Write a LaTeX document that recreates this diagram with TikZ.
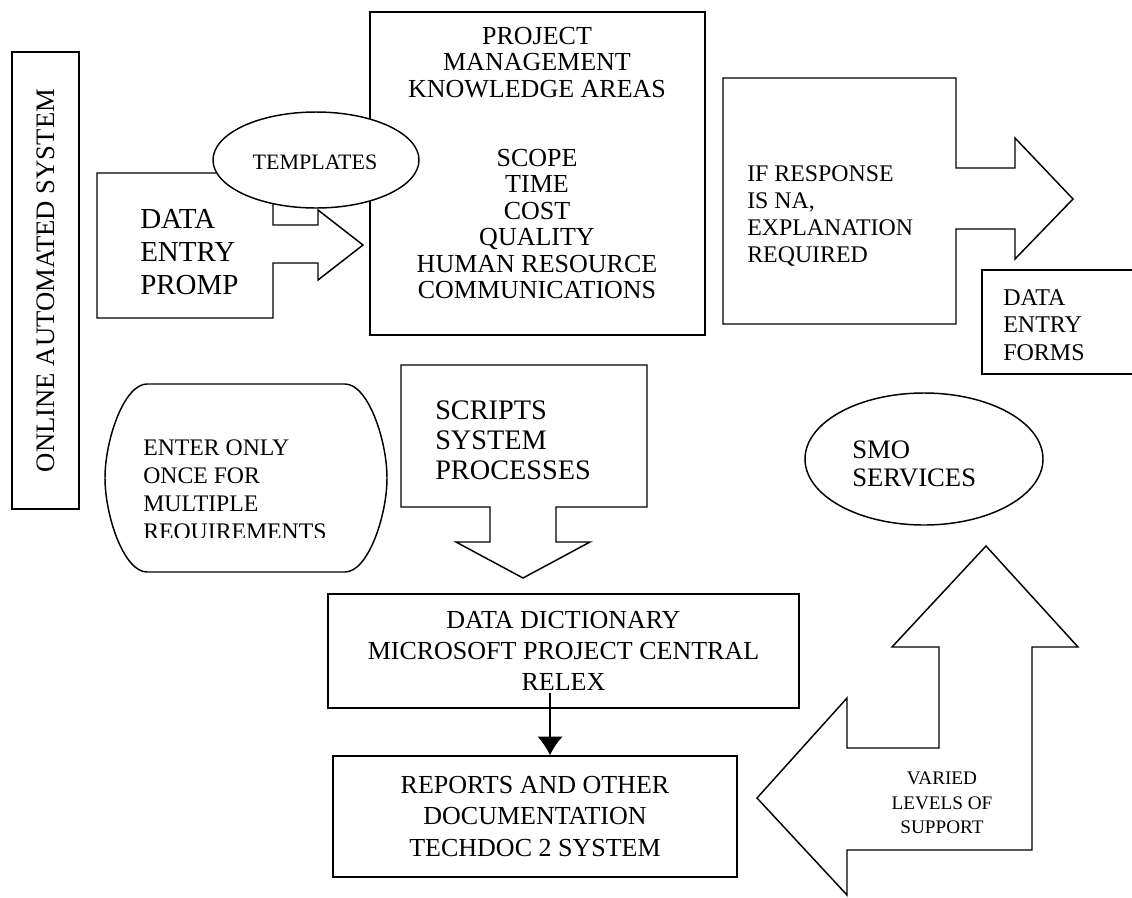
\documentclass[tikz,border=0pt]{standalone}
\usepackage{fontspec}
\setmainfont{Liberation Serif}
\usetikzlibrary{arrows.meta}
\begin{document}
\begin{tikzpicture}[x=0.75pt,y=-0.75pt,
  outline/.style={draw=black, line width=1.1pt, line join=miter, fill=white},
  boxnode/.style={outline, rectangle, inner sep=0pt},
  txt/.style={inner sep=0pt},
  pmfont/.style={font=\fontsize{19.5pt}{19.9pt}\selectfont},
  promptfont/.style={font=\fontsize{21.75pt}{25pt}\selectfont},
  respfont/.style={font=\fontsize{17.9pt}{20.4pt}\selectfont},
  formsfont/.style={font=\fontsize{18pt}{20.6pt}\selectfont},
  tplfont/.style={font=\fontsize{16.5pt}{18pt}\selectfont},
  onlinefont/.style={font=\fontsize{20pt}{22pt}\selectfont},
  enterfont/.style={font=\fontsize{17.8pt}{20.8pt}\selectfont},
  scriptfont/.style={font=\fontsize{21.2pt}{22.5pt}\selectfont},
  ddfont/.style={font=\fontsize{19.5pt}{23.3pt}\selectfont},
  smofont/.style={font=\fontsize{20pt}{21pt}\selectfont},
  variedfont/.style={font=\fontsize{14.4pt}{18.4pt}\selectfont},
  conn/.style={draw=black, line width=1.1pt, -{Latex[length=14pt,width=19pt]}}
]
\useasboundingbox[fill=white] (0,0) rectangle (1132,897);

% vertical title bar
\node[boxnode, onlinefont, rotate=90, minimum width=342.75pt, minimum height=50.25pt]
  (online) at (45.5,280.5) {ONLINE AUTOMATED SYSTEM};

% knowledge areas box
\node[boxnode, minimum width=251.25pt, minimum height=242.25pt] (pm) at (537.5,173.5) {};
\node[txt, pmfont, align=center] (pmtext) at (537,163)
  {PROJECT\\MANAGEMENT\\KNOWLEDGE AREAS\\[32pt]SCOPE\\TIME\\COST\\QUALITY\\HUMAN RESOURCE\\COMMUNICATIONS};

% data entry prompt arrow
\draw[outline] (97,173) -- (273,173) -- (273,225) -- (318,225) -- (318,210) -- (363,245)
  -- (318,280) -- (318,263) -- (273,263) -- (273,318) -- (97,318) -- cycle;
\node[txt, promptfont, align=left, anchor=west] (prompt) at (140,252) {DATA\\ENTRY\\PROMP};

% templates ellipse on top
\draw[outline] (316,160) ellipse [x radius=103, y radius=48];
\node[txt, tplfont] (templates) at (315,162) {TEMPLATES};

% response arrow
\draw[outline] (723,78) -- (956,78) -- (956,168) -- (1015,168) -- (1015,138) -- (1073,199)
  -- (1015,259) -- (1015,229) -- (956,229) -- (956,324) -- (723,324) -- cycle;
\node[txt, respfont, align=left, anchor=west] (response) at (747,216)
  {IF RESPONSE\\IS NA,\\EXPLANATION\\REQUIRED};

% data entry forms box, running off the right edge
\draw[outline] (1132,270) -- (982,270) -- (982,374) -- (1132,374);
\node[txt, formsfont, align=left, anchor=west] (forms) at (1003,325) {DATA\\ENTRY\\FORMS};

% rounded "enter only once" shape
\draw[outline] (147,384) -- (345,384) .. controls (368,384) and (387,440) .. (387,478)
  .. controls (387,516) and (368,572) .. (345,572) -- (147,572)
  .. controls (124,572) and (105,516) .. (105,478)
  .. controls (105,440) and (124,384) .. (147,384) -- cycle;
\begin{scope}
  \clip (100,380) rectangle (392,537);
  \node[txt, enterfont, align=left, anchor=west] (enter) at (143,491.5)
    {ENTER ONLY\\ONCE FOR\\MULTIPLE\\REQUIREMENTS};
\end{scope}

% scripts down arrow
\draw[outline] (401,365) -- (647,365) -- (647,507) -- (556,507) -- (556,542) -- (590,542)
  -- (523,578) -- (456,542) -- (490,542) -- (490,507) -- (401,507) -- cycle;
\node[txt, scriptfont, align=left, anchor=west] (scripts) at (435,440)
  {SCRIPTS\\SYSTEM\\PROCESSES};

% data dictionary and reports
\node[boxnode, ddfont, align=center, minimum width=353.25pt, minimum height=85.5pt]
  (dd) at (563.5,651) {DATA DICTIONARY\\MICROSOFT PROJECT CENTRAL\\RELEX};
\node[boxnode, ddfont, align=center, minimum width=303pt, minimum height=90.75pt]
  (rep) at (535,816.5) {REPORTS AND OTHER\\DOCUMENTATION\\TECHDOC 2 SYSTEM};
\coordinate (ddfoot) at (550,693);
\draw[conn] (ddfoot) -- (ddfoot |- rep.north);

% SMO services ellipse
\draw[outline] (924,459) ellipse [x radius=119, y radius=66];
\node[txt, smofont, align=left, anchor=west] (smo) at (852,464) {SMO\\SERVICES};

% bent two-way support arrow
\draw[outline] (757,798) -- (847,698) -- (847,748) -- (939,748) -- (939,647) -- (892,647)
  -- (986,546) -- (1078,647) -- (1032,647) -- (1032,850) -- (847,850) -- (847,895) -- cycle;
\node[txt, variedfont, align=center] (varied) at (942,803) {VARIED\\LEVELS OF\\SUPPORT};
\end{tikzpicture}
\end{document}
